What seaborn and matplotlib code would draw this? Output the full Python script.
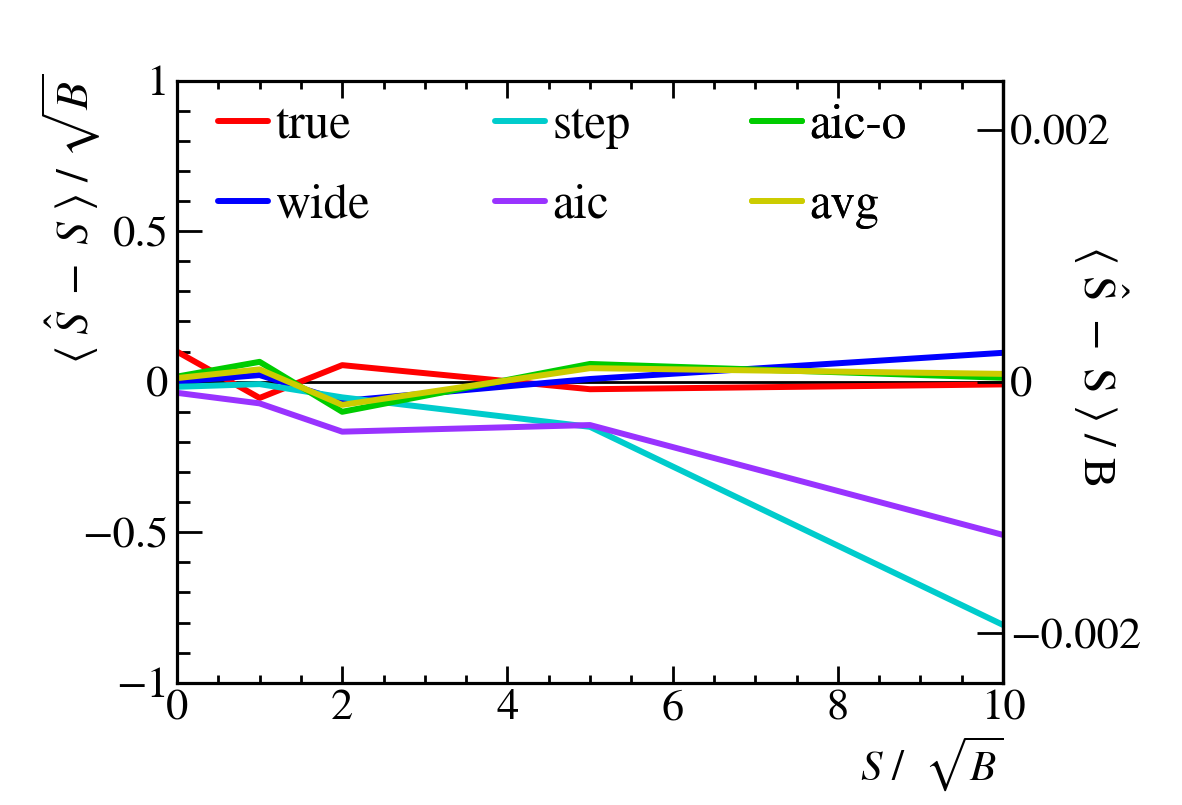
import numpy as np
import pandas as pd
import matplotlib
matplotlib.use('Agg')
from matplotlib import pyplot as plt
from matplotlib.ticker import MultipleLocator
import seaborn as sns

# values
x_vals = [0, 1, 2, 5, 10]
true = [0.100, -0.054, 0.055, -0.025, -0.009]
wide = [0.000, 0.022, -0.064, 0.009, 0.096]
step = [-0.017, -0.008, -0.052, -0.150, -0.808]
aic = [-0.037, -0.072, -0.166, -0.144, -0.509]
aic_o = [0.017, 0.066, -0.100, 0.059, 0.013]
avg = [0.012, 0.041, -0.077, 0.045, 0.026]

methods = ["true", "wide", "step", "aic", "aic-o", "avg"]
colors = ["#ff0000", "#0000ff", "#00cccc", "#9933ff", "#00cc00", "#cccc00"]

df = pd.DataFrame({
    "x": x_vals * len(methods),
    "y": true + wide + step + aic + aic_o + avg,
    "method": [m for m in methods for _ in x_vals],
})

sns.set_style("ticks", {"axes.edgecolor": "black", "xtick.color": "black",
                        "ytick.color": "black", "text.color": "black",
                        "axes.labelcolor": "black"})
# times-like text, STIX ships with matplotlib
plt.rcParams['font.family'] = ['STIXGeneral', 'Liberation Serif', 'DejaVu Serif']
plt.rcParams['mathtext.fontset'] = 'stix'

fig = plt.figure(figsize=(11.82, 8.05), dpi=100)
ax = fig.add_axes([177/1182, 1 - 682.7/805, 826/1182, 602/805])

ax.axhline(0, color='black', lw=2, zorder=1)
sns.lineplot(data=df, x="x", y="y", hue="method", hue_order=methods,
             palette=colors, linewidth=4.3, legend=False, ax=ax, zorder=2)

ax.set_xlim(0, 10)
ax.set_ylim(-1, 1)
ax.xaxis.set_major_locator(MultipleLocator(2))
ax.xaxis.set_minor_locator(MultipleLocator(0.5))
ax.yaxis.set_major_locator(MultipleLocator(0.5))
ax.yaxis.set_minor_locator(MultipleLocator(0.1))
fmt = matplotlib.ticker.FuncFormatter(lambda v, p: f"{v:g}".replace("-", "\u2212"))
ax.xaxis.set_major_formatter(fmt)
ax.yaxis.set_major_formatter(fmt)

for s in ax.spines.values():
    s.set_linewidth(2.3)
ax.tick_params(axis='x', which='major', direction='in', length=12, width=2,
               top=True, bottom=True, labelsize=32, pad=5)
ax.tick_params(axis='x', which='minor', direction='in', length=6, width=2,
               top=True, bottom=True)
ax.tick_params(axis='y', which='major', direction='in', length=18, width=2,
               left=True, right=False, labelsize=32, pad=6)
ax.tick_params(axis='y', which='minor', direction='in', length=9.5, width=2,
               left=True, right=False)

ax.set_xlabel(r"$S\ /\ \ \sqrt{B}$", fontsize=31, loc='right', labelpad=4)
ax.set_ylabel(r"$\langle\ \hat{S}\ -\ S\ \rangle\ /\ \sqrt{B}$", fontsize=33,
              loc='top')
ax.yaxis.set_label_coords(-0.09, 1.012)

ax2 = ax.twinx()
k = 0.002 * 301 / 251.7
ax2.set_ylim(-k, k)
ax2.set_yticks([-0.002, 0, 0.002])
ax2.set_yticklabels(["\u22120.002", "0", "0.002"])
ax2.tick_params(axis='y', direction='in', length=19, width=2, labelsize=32, pad=5)
ax2.spines['right'].set_linewidth(2.3)
ax2.set_ylabel(r"$\langle\ \hat{\mathrm{S}}\ -\ \mathrm{S}\ \rangle\ /\ \mathrm{B}$",
               fontsize=33, rotation=270, va='center', ha='center')
ax2.yaxis.set_label_coords(1.117, 0.528)

# three legend columns, two rows each
lines = ax.get_lines()[1:]
col_x = [0.0496, 0.385, 0.696]
for c in range(3):
    leg = ax2.legend(lines[2 * c:2 * c + 2], methods[2 * c:2 * c + 2],
                     loc='upper left', bbox_to_anchor=(col_x[c], 0.962),
                     frameon=False, fontsize=35, handlelength=1.03,
                     handletextpad=0.15, labelspacing=0.72, borderpad=0,
                     borderaxespad=0)
    ax2.add_artist(leg)

fig.savefig("out.png", dpi=100)
